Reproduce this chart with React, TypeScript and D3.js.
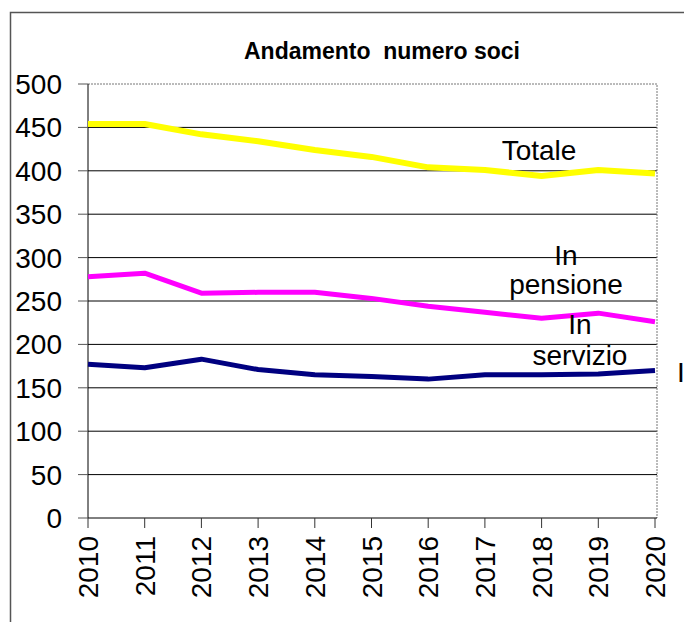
import React, { useEffect, useRef } from 'react';
import * as d3 from 'd3';

const years = ['2010', '2011', '2012', '2013', '2014', '2015', '2016', '2017', '2018', '2019', '2020'];
const totale = [454, 454, 442, 434, 424, 416, 404, 401, 394, 401, 397];
const inPensione = [278, 282, 259, 260, 260, 253, 244, 237, 230, 236, 226];
const inServizio = [177, 173, 183, 171, 165, 163, 160, 165, 165, 166, 170];
const yTicks = [0, 50, 100, 150, 200, 250, 300, 350, 400, 450, 500];

const FONT = '"Liberation Sans", Arial, sans-serif';

const App: React.FC = () => {
  const svgRef = useRef<SVGSVGElement>(null);

  useEffect(() => {
    if (!svgRef.current) return;
    const svg = d3.select(svgRef.current);
    svg.selectAll('*').remove();

    const x = d3.scalePoint<string>().domain(years).range([88, 655]);
    const y = d3.scaleLinear().domain([0, 500]).range([518, 84]);
    const left = 88;
    const right = 657;

    // outer frame (only top and left edges are visible)
    svg.append('path')
      .attr('d', 'M10.5,622 L10.5,12.5 L684,12.5')
      .attr('fill', 'none')
      .attr('stroke', '#555')
      .attr('stroke-width', 1.5);

    // title (keeps the double space)
    svg.append('text')
      .attr('x', 382)
      .attr('y', 59)
      .attr('text-anchor', 'middle')
      .style('font-family', FONT)
      .style('font-size', '23px')
      .style('font-weight', 'bold')
      .style('white-space', 'pre')
      .text('Andamento  numero soci');

    // gridlines
    yTicks.filter(t => t > 0 && t < 500).forEach(t => {
      svg.append('line')
        .attr('x1', left).attr('x2', right)
        .attr('y1', y(t)).attr('y2', y(t))
        .attr('stroke', '#000')
        .attr('stroke-width', 1);
    });

    // top and right dotted plot border
    svg.append('path')
      .attr('d', `M${left},${y(500)} L${right},${y(500)} L${right},${y(0)}`)
      .attr('fill', 'none')
      .attr('stroke', '#777')
      .attr('stroke-width', 1)
      .attr('stroke-dasharray', '2,1');

    // y axis
    svg.append('line')
      .attr('x1', left).attr('x2', left)
      .attr('y1', y(500)).attr('y2', y(0))
      .attr('stroke', '#000');
    yTicks.forEach(t => {
      svg.append('line')
        .attr('x1', 78).attr('x2', left)
        .attr('y1', y(t)).attr('y2', y(t))
        .attr('stroke', '#555');
      svg.append('text')
        .attr('x', 62)
        .attr('y', y(t))
        .attr('dy', '0.36em')
        .attr('text-anchor', 'end')
        .style('font-family', FONT)
        .style('font-size', '28px')
        .text(String(t));
    });

    // x axis
    svg.append('line')
      .attr('x1', left).attr('x2', right)
      .attr('y1', y(0)).attr('y2', y(0))
      .attr('stroke', '#000');
    years.forEach(yr => {
      const px = x(yr) as number;
      svg.append('line')
        .attr('x1', px).attr('x2', px)
        .attr('y1', y(0)).attr('y2', y(0) + 10)
        .attr('stroke', '#333');
      svg.append('text')
        .attr('transform', `translate(${px + 10},536) rotate(-90)`)
        .attr('text-anchor', 'end')
        .style('font-family', FONT)
        .style('font-size', '28px')
        .text(yr);
    });

    // series
    const line = d3.line<number>()
      .x((_, i) => x(years[i]) as number)
      .y(d => y(d));

    const series = [
      { values: totale, color: '#FFFF00', width: 6 },
      { values: inPensione, color: '#FF00FF', width: 5 },
      { values: inServizio, color: '#000080', width: 5 }
    ];
    series.forEach(s => {
      svg.append('path')
        .datum(s.values)
        .attr('d', line)
        .attr('fill', 'none')
        .attr('stroke', s.color)
        .attr('stroke-width', s.width)
        .attr('stroke-linejoin', 'round');
    });

    // inline labels; the last one is cut to "I" at the picture's edge
    const labels = [
      { text: 'Totale', x: 539, y: 160, anchor: 'middle' },
      { text: 'In', x: 566, y: 265, anchor: 'middle' },
      { text: 'pensione', x: 566, y: 294, anchor: 'middle' },
      { text: 'In', x: 580, y: 334, anchor: 'middle' },
      { text: 'servizio', x: 580, y: 365, anchor: 'middle' },
      { text: 'I', x: 677, y: 382, anchor: 'start' }
    ];
    labels.forEach(l => {
      svg.append('text')
        .attr('x', l.x)
        .attr('y', l.y)
        .attr('text-anchor', l.anchor)
        .style('font-family', FONT)
        .style('font-size', '28px')
        .text(l.text);
    });
  }, []);

  return (
    <svg
      ref={svgRef}
      width={684}
      height={622}
      style={{ position: 'absolute', left: 0, top: 0, background: '#fff' }}
    />
  );
};

export default App;
